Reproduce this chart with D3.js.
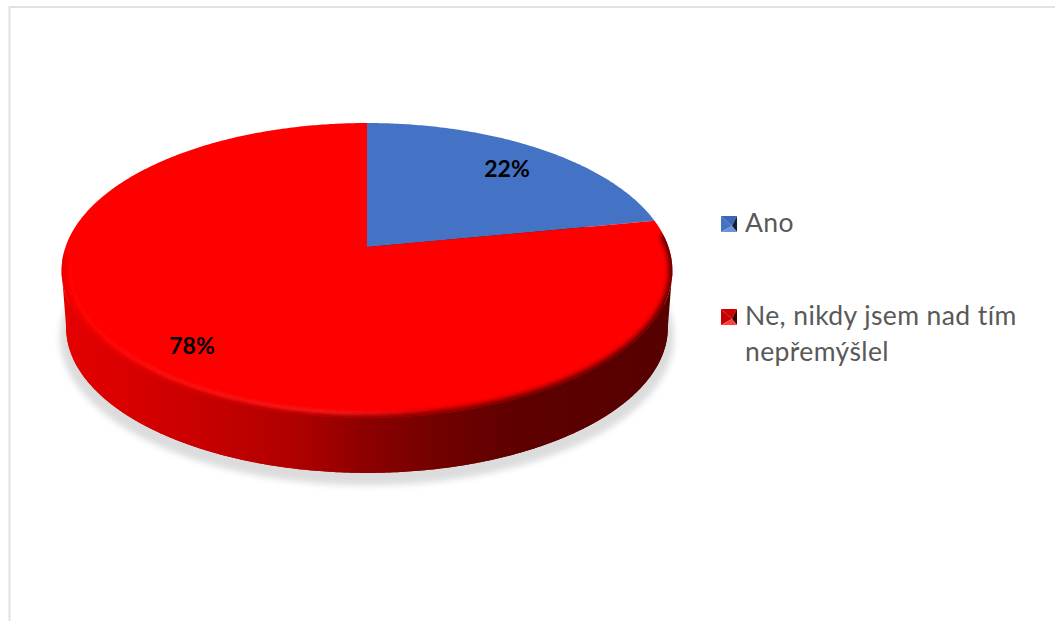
<!DOCTYPE html>
<html><head><meta charset="utf-8">
<script src="https://cdnjs.cloudflare.com/ajax/libs/d3/7.8.5/d3.min.js"></script>
<style>html,body{margin:0;padding:0;background:#fff;overflow:hidden}svg{display:block}text{font-family:Lato,"Open Sans",sans-serif}</style>
</head><body><svg id="c" width="1055" height="621"></svg>
<script>
const categories = ["Ano", "Ne, nikdy jsem nad tím nepřemýšlel"];
const legendLines = [["Ano"], ["Ne, nikdy jsem nad tím", "nepřemýšlel"]];
const values = [22, 78];
const labels = ["22%", "78%"];
const colors = ["#4472c4", "#ff0000"];

const W = 1055, H = 621;
const svg = d3.select("#c");
const defs = svg.append("defs");

// Perspective projection of the pie's unit circle
const cx = 367, cy = 247, a = 301.5, b = 143.7, k = 0.159, depth = 57.6;
function proj(u, v, scale = 1, dy = 0) {
  const w = 1 - k * v;
  return [cx + scale * a * u / w, cy + dy + scale * b * v / w];
}
const onRim = (t, scale, dy) => proj(Math.sin(t), -Math.cos(t), scale, dy);
const line = d3.line();
const sweep = (t0, t1, s = 1, dy = 0) => {
  const n = Math.max(2, Math.ceil(Math.abs(t1 - t0) / 0.01));
  return d3.range(n + 1).map(i => onRim(t0 + (t1 - t0) * i / n, s, dy));
};
const TAU = 2 * Math.PI;
const frontA = Math.acos(-k), frontB = TAU - frontA;

// gradients and filters
const sideStops = [[0, "#e60000"], [0.2, "#cc0000"], [0.38, "#b00000"], [0.5, "#8c0000"], [0.62, "#720000"], [0.75, "#5e0000"], [1, "#560000"]];
function hGrad(id, stops) {
  const g = defs.append("linearGradient").attr("id", id).attr("gradientUnits", "userSpaceOnUse")
    .attr("x1", 62).attr("x2", 672).attr("y1", 0).attr("y2", 0);
  stops.forEach(s => g.append("stop").attr("offset", s[0]).attr("stop-color", s[1]).attr("stop-opacity", s[2] === undefined ? 1 : s[2]));
}
hGrad("side", sideStops);
hGrad("hi", [[0, "#ff2a2a", 0.1], [0.2, "#ff2a2a", 0.55], [0.45, "#ff2a2a", 0.7], [0.62, "#ff2a2a", 0], [1, "#ff2a2a", 0]]);
const blur = (id, sd) => defs.append("filter").attr("id", id).attr("x", "-10%").attr("y", "-10%").attr("width", "120%").attr("height", "120%")
  .append("feGaussianBlur").attr("stdDeviation", sd);
blur("blurS", 3);
blur("blurB", 2.6);
blur("blurH", 1.8);

const topOutline = line(sweep(0, TAU)) + "Z";
const bottomOutline = line(sweep(0, TAU, 0.985, depth)) + "Z";
const sidePts = sweep(frontA, frontB).concat(sweep(frontB, frontA, 0.985, depth));
const sidePath = line(sidePts) + "Z";
defs.append("clipPath").attr("id", "topClip").append("path").attr("d", topOutline);
defs.append("clipPath").attr("id", "sideClip").append("path").attr("d", sidePath + bottomOutline);

// frame
svg.append("path").attr("d", `M${W},7H9.5V${H}`).attr("fill", "none").attr("stroke", "#e2e2e2").attr("stroke-width", 2);

// shadow
svg.append("path").attr("d", line(sweep(0, TAU, 1.005, depth + 9)) + "Z").attr("fill", "#dcdcdc").attr("filter", "url(#blurS)");

// side
svg.append("path").attr("d", bottomOutline).attr("fill", "url(#side)");
svg.append("path").attr("d", sidePath).attr("fill", "url(#side)");
svg.append("g").attr("clip-path", "url(#sideClip)")
  .append("path").attr("d", line(sweep(frontA, frontB, 0.985, depth))).attr("fill", "none")
  .attr("stroke", "#300000").attr("stroke-opacity", 0.5).attr("stroke-width", 3).attr("filter", "url(#blurH)");

// slices
const arcs = d3.pie().sort(null).value(d => d)(values);
const gSlices = svg.append("g");
arcs.forEach((d, i) => {
  const pts = [[cx, cy]].concat(sweep(d.startAngle, d.endAngle));
  gSlices.append("path").attr("d", line(pts) + "Z").attr("fill", colors[i]);
});

// bevel on front rim: dark falloff towards the side plus a soft highlight
const bevel = svg.append("g").attr("clip-path", "url(#topClip)");
bevel.append("path").attr("d", line(sweep(frontA - 0.25, frontB + 0.12))).attr("fill", "none")
  .attr("stroke", "url(#side)").attr("stroke-width", 7).attr("filter", "url(#blurB)");
bevel.append("path").attr("d", line(sweep(frontA, frontB + 0.05, 0.972, 0))).attr("fill", "none")
  .attr("stroke", "url(#hi)").attr("stroke-width", 3).attr("filter", "url(#blurH)");

// data labels
const labelPos = [[507, 177], [192, 354]];
svg.append("g").selectAll("text").data(labels).join("text")
  .attr("x", (d, i) => labelPos[i][0]).attr("y", (d, i) => labelPos[i][1])
  .attr("text-anchor", "middle").attr("font-weight", 700).attr("font-size", 23).attr("fill", "#000")
  .text(d => d);

// legend
const lx = 721, ms = 16;
const legendY = [216, 309];
const markerShades = [
  { l: "#4472c4", t: "#3f68b4", r: "#10203c", b: "#6f92d6" },
  { l: "#c80000", t: "#d00000", r: "#3c0000", b: "#ff4040" }
];
legendLines.forEach((ls, i) => {
  const y = legendY[i], s = markerShades[i];
  const g = svg.append("g").attr("transform", `translate(${lx},${y})`);
  const c = [ms * 0.68, ms * 0.62];
  const tri = (p, q, f) => g.append("path").attr("d", line([p, q, c]) + "Z").attr("fill", f);
  tri([0, 0], [0, ms], s.l);
  tri([0, 0], [ms, 0], s.t);
  tri([ms, 0], [ms, ms], s.r);
  tri([0, ms], [ms, ms], s.b);
  ls.forEach((t, j) => {
    svg.append("text").attr("x", 745).attr("y", y + 16 + j * 35.5)
      .attr("font-size", 26.5).attr("letter-spacing", 0.4).attr("fill", "#595959").text(t);
  });
});
</script></body></html>
